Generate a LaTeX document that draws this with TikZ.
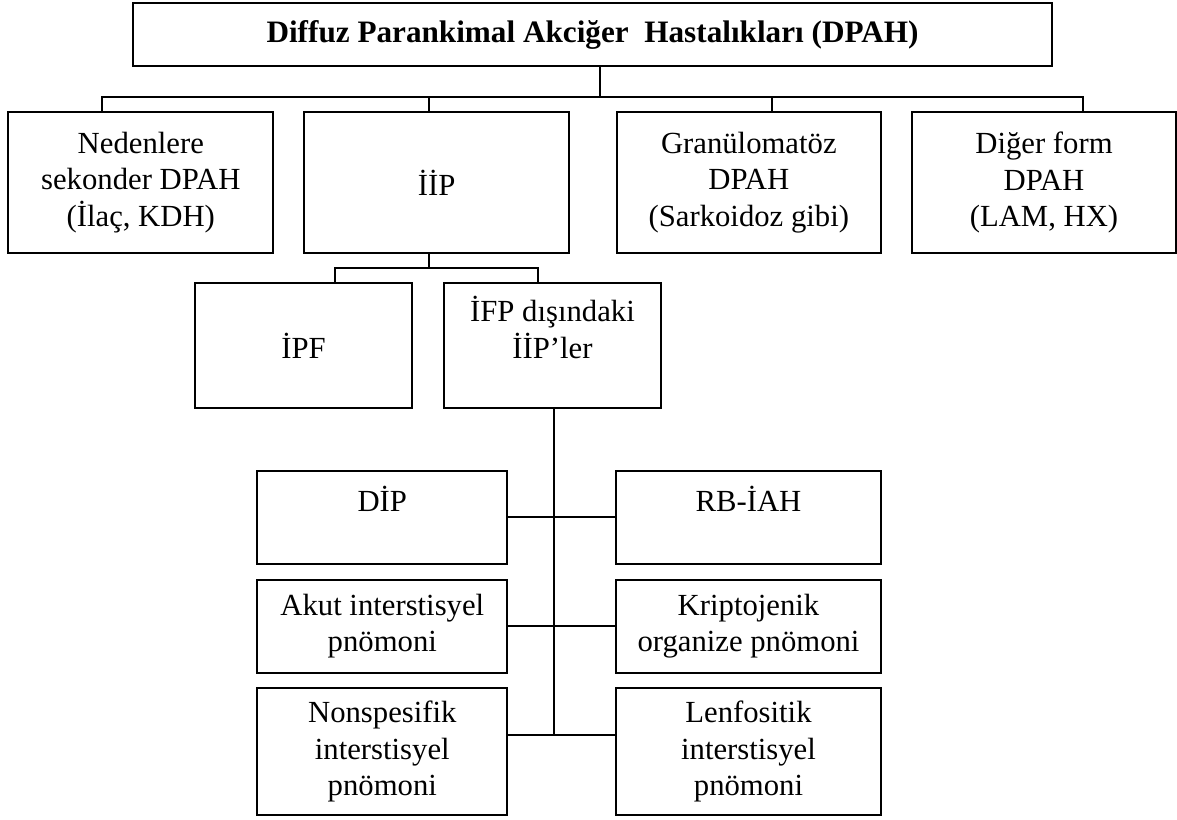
\documentclass[tikz,border=0pt]{standalone}
\usepackage{fontspec}
\setmainfont{Liberation Serif}
\newcommand\fsz{\fontsize{30.7}{36.5}\selectfont}
\newcommand\tsz{\fontsize{31.2}{36.5}\selectfont\bfseries}
\tikzset{
  box/.style={draw, line width=2pt, inner sep=0pt, align=center, font=\fsz},
  conn/.style={draw, line width=2pt}
}
\begin{document}
\begin{tikzpicture}[x=1pt,y=-1pt]
\useasboundingbox (0,0) rectangle (1177,819);
% top
\node[box, minimum width=919.6pt, minimum height=62.4pt, font=\tsz] (top) at (592.5,34.5)
  {Diffuz Parankimal Akciğer\ \ Hastalıkları (DPAH)};
% row 2
\node[box, minimum width=265pt, minimum height=140.4pt] (b1) at (140.8,182.5)
  {Nedenlere\\sekonder DPAH\\(İlaç, KDH)};
\node[box, minimum width=265.3pt, minimum height=140.4pt] (b2) at (436.7,182.5) {İİP};
\node[box, minimum width=264.3pt, minimum height=140.4pt] (b3) at (748.8,182.5)
  {Granülomatöz\\DPAH\\(Sarkoidoz gibi)};
\node[box, minimum width=264pt, minimum height=140.4pt] (b4) at (1044,182.5)
  {Diğer form\\DPAH\\(LAM, HX)};
% row 3
\node[box, minimum width=217pt, minimum height=125pt] (ipf) at (303.5,345.5) {İPF};
\node[box, minimum width=217pt, minimum height=125pt] (ifp) at (552.5,345.5)
  {İFP dışındaki\\İİP’ler\\\mbox{}};
% row 4
\node[box, minimum width=250pt, minimum height=93.3pt] (dip) at (382.3,517.3) {DİP\\\mbox{}};
\node[box, minimum width=265.3pt, minimum height=93.3pt] (rb) at (748.5,517.3) {RB-İAH\\\mbox{}};
\node[box, minimum width=250pt, minimum height=92.7pt] (aip) at (382.3,626.3)
  {Akut interstisyel\\pnömoni};
\node[box, minimum width=265.3pt, minimum height=92.7pt] (kop) at (748.5,626.3)
  {Kriptojenik\\organize pnömoni};
\node[box, minimum width=250pt, minimum height=126.7pt] (nsp) at (382.3,751.7)
  {Nonspesifik\\interstisyel\\pnömoni};
\node[box, minimum width=265.3pt, minimum height=126.7pt] (lip) at (748.5,751.7)
  {Lenfositik\\interstisyel\\pnömoni};
% junction coordinates
\coordinate (j0) at (600.3,96.7);
\coordinate (k1) at (101.7,96.7);
\coordinate (k2) at (429,96.7);
\coordinate (k3) at (771.7,96.7);
\coordinate (k4) at (1083.3,96.7);
\coordinate (m0) at (429,267.7);
\coordinate (m1) at (335.3,267.7);
\coordinate (m2) at (538,267.7);
\coordinate (n3) at (554.3,735);
% connectors
\draw[conn] (top.south -| j0) -- (j0);
\draw[conn] (b1.north -| k1) -- (k1) -- (k4) -- (b4.north -| k4);
\draw[conn] (k2) -- (b2.north -| k2);
\draw[conn] (k3) -- (b3.north -| k3);
\draw[conn] (b2.south -| m0) -- (m0);
\draw[conn] (ipf.north -| m1) -- (m1) -- (m2) -- (ifp.north -| m2);
\draw[conn] (ifp.south -| n3) -- (n3);
\draw[conn] (dip.east) -- (rb.west);
\draw[conn] (aip.east) -- (kop.west);
\draw[conn] (nsp.east |- n3) -- (lip.west |- n3);
\end{tikzpicture}
\end{document}
